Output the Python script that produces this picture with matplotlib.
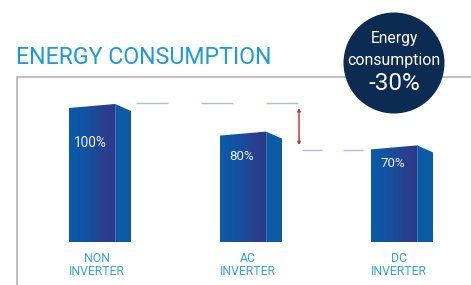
import numpy as np
import matplotlib
matplotlib.use("Agg")
import matplotlib.pyplot as plt
from matplotlib.patches import Polygon, Circle
from matplotlib.colors import LinearSegmentedColormap

plt.rcParams['font.family'] = ['Roboto', 'DejaVu Sans']

# данные графика
categories = ["NON\nINVERTER", "AC\nINVERTER", "DC\nINVERTER"]
values = [100, 80, 70]
value_labels = ["100%", "80%", "70%"]
title = "ENERGY CONSUMPTION"
badge_lines = ["Energy", "consumption", "-30%"]

W, H = 471, 285
fig = plt.figure(figsize=(W / 100, H / 100), dpi=100)
renderer = fig.canvas.get_renderer()


# подгонка размера шрифта под нужную ширину в пикселях
def fit_width(t, target):
    w = t.get_window_extent(renderer).width
    t.set_fontsize(t.get_fontsize() * target / w)


# оси для столбцов (в процентах)
px_x, px_y = 151.0, 1.38
ax = fig.add_axes([16 / W, (H - 242) / H, (W - 16) / W, (242 - 77) / H])
ax.set_xlim((16 - 92) / px_x, (W - 92) / px_x)
ax.set_ylim(0, (242 - 77) / px_y)
ax.axis("off")

hw = 23 / px_x      # половина ширины передней грани
sw = 16 / px_x      # ширина боковой грани
slant = 4 / px_y
drop = 7 / px_y

front_cmap = LinearSegmentedColormap.from_list(
    "front", ["#0c5aa8", "#0f56a4", "#1a4c9c", "#2a3f8f", "#2b3b8a"])
grad = np.linspace(0, 1, 100).reshape(1, -1)

for i, (v, lab, cat) in enumerate(zip(values, value_labels, categories)):
    c = i
    front = Polygon([(c - hw, 0), (c + hw, 0), (c + hw, v), (c - hw, v - slant)],
                    closed=True, facecolor="none", edgecolor="none")
    ax.add_patch(front)
    im = ax.imshow(grad, cmap=front_cmap, extent=(c - hw, c + hw, 0, v),
                   aspect="auto", origin="lower", zorder=2)
    im.set_clip_path(front)
    side = Polygon([(c + hw, 0), (c + hw + sw, 0), (c + hw + sw, v - drop), (c + hw, v)],
                   closed=True, facecolor="#0a5ba4", edgecolor="none", zorder=2)
    ax.add_patch(side)
    ax.plot([c + hw, c + hw], [0, v], color="#4d78bb", lw=0.6, zorder=3)
    t = ax.text(c - 0.01, 0.5 * v + 22, lab, color="#eef3fb", fontsize=10,
                ha="center", va="center", zorder=4)
    fit_width(t, 8.5 * len(lab) - 1)
    t = ax.text(c + 0.03, -7.0, cat, color="#33a5df", fontsize=10, ha="center",
                va="top", linespacing=1.08, clip_on=False)
    fit_width(t, 56)

# пунктирные уровни
ax.plot([0.291, 1.377], [values[0] + 0.7, values[0] + 0.7], color="#b3badd",
        lw=1.0, dashes=(23, 23.8), dash_capstyle="butt")
ax.plot([1.391, 1.795], [values[2] - 3.3, values[2] - 3.3], color="#b3badd",
        lw=1.0, dashes=(14.4, 15.1), dash_capstyle="butt")

# стрелка разницы
ax.annotate("", xy=(1.371, values[2] + 0.3), xytext=(1.371, values[0] - 3),
            arrowprops=dict(arrowstyle="<|-|>", color="#d62027", lw=1.0,
                            mutation_scale=4, shrinkA=0, shrinkB=0))

# верхний слой: заголовок, рамка, круг
ov = fig.add_axes([0, 0, 1, 1])
ov.set_xlim(0, W)
ov.set_ylim(H, 0)
ov.axis("off")
ov.patch.set_alpha(0)

ov.plot([16, W], [77, 77], color="#b4b4b4", lw=1.2, solid_capstyle="butt")
ov.plot([16.5, 16.5], [77, H], color="#b4b4b4", lw=1.2, solid_capstyle="butt")
t = ov.text(16, 64, title, color="#1b9bd7", fontsize=19, ha="left", va="baseline")
fit_width(t, 256)

ov.add_patch(Circle((394, 63), 50.5, facecolor="#0c2b52", edgecolor="none", zorder=5))
t = ov.text(394, 39, badge_lines[0], color="white", fontsize=11, ha="center", va="center", zorder=6)
fit_width(t, 47)
t = ov.text(394, 60, badge_lines[1], color="white", fontsize=11, ha="center", va="center", zorder=6)
fit_width(t, 92)
t = ov.text(394, 84, badge_lines[2], color="white", fontsize=14, ha="center", va="center", zorder=6)
fit_width(t, 52)

fig.savefig("out.png", dpi=100)
